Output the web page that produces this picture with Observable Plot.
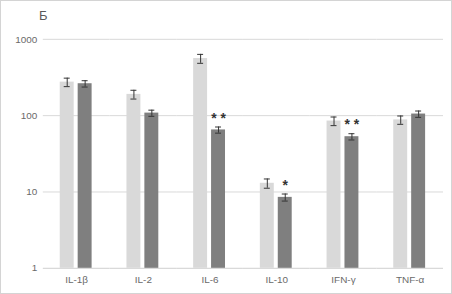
<!DOCTYPE html>
<html><head><meta charset="utf-8">
<script src="https://cdn.jsdelivr.net/npm/d3@7"></script>
<script src="https://cdn.jsdelivr.net/npm/@observablehq/plot@0.6"></script>
<style>
body{margin:0;background:#fff;}
#wrap{position:relative;width:452px;height:294px;box-sizing:border-box;border:1px solid #d4d4d4;overflow:hidden;background:#fff;}
#title{position:absolute;left:38px;top:7px;font:13px "Liberation Sans",Arial,sans-serif;color:#595959;}
#chart{position:absolute;left:0;top:0;}
</style></head>
<body><div id="wrap"><div id="title">Б</div><div id="chart"></div></div>
<script>
const categories = ["IL-1β","IL-2","IL-6","IL-10","IFN-γ","TNF-α"];
const seriesNames = ["control","treated"];
const lightValues = [275, 190, 560, 13, 85, 88];
const lightErrors = [35, 25, 75, 1.8, 11, 11];
const darkValues = [262, 108, 65, 8.5, 53, 105];
const darkErrors = [25, 10, 6, 0.9, 5, 10];
const darkStars = ["", "", "* *", "*", "* *", ""];
const yTicks = [1, 10, 100, 1000];

const data = [];
categories.forEach((c, i) => {
  data.push({cat: c, s: seriesNames[0], v: lightValues[i], e: lightErrors[i], star: ""});
  data.push({cat: c, s: seriesNames[1], v: darkValues[i], e: darkErrors[i], star: darkStars[i]});
});

const plot = Plot.plot({
  width: 452, height: 294,
  marginLeft: 41, marginRight: 8, marginTop: 38, marginBottom: 26,
  style: {fontFamily: "'Liberation Sans', Arial, sans-serif", fontSize: "10px", color: "#6a6a6a", background: "transparent"},
  fx: {domain: categories, padding: 0, label: null, axis: "bottom", tickSize: 0, tickPadding: 8},
  x: {domain: seriesNames, paddingInner: 0.22, paddingOuter: 0.97, axis: null},
  y: {type: "log", domain: [1, 1000], ticks: yTicks, tickFormat: d => String(d), label: null, tickSize: 0, tickPadding: 6},
  color: {domain: seriesNames, range: ["#d9d9d9", "#7f7f7f"]},
  marks: [
    Plot.gridY(yTicks.slice(1), {stroke: "#d9d9d9", strokeOpacity: 1, strokeWidth: 1}),
    Plot.ruleY([1], {stroke: "#d0d0d0"}),
    Plot.barY(data, {fx: "cat", x: "s", y1: 1, y2: "v", fill: "s"}),
    Plot.ruleX(data, {fx: "cat", x: "s", y1: d => d.v - d.e, y2: d => d.v + d.e, stroke: "#333", strokeWidth: 1}),
    Plot.tickY(data, {fx: "cat", x: "s", y: d => d.v + d.e, stroke: "#333", insetLeft: 4, insetRight: 4}),
    Plot.tickY(data, {fx: "cat", x: "s", y: d => d.v - d.e, stroke: "#333", insetLeft: 4, insetRight: 4}),
    Plot.text(data.filter(d => d.star), {fx: "cat", x: "s", y: d => d.v + d.e, text: "star", dy: -9, fontSize: 14, fontWeight: "bold", fill: "#333"})
  ]
});
document.getElementById("chart").appendChild(plot);
</script></body></html>
